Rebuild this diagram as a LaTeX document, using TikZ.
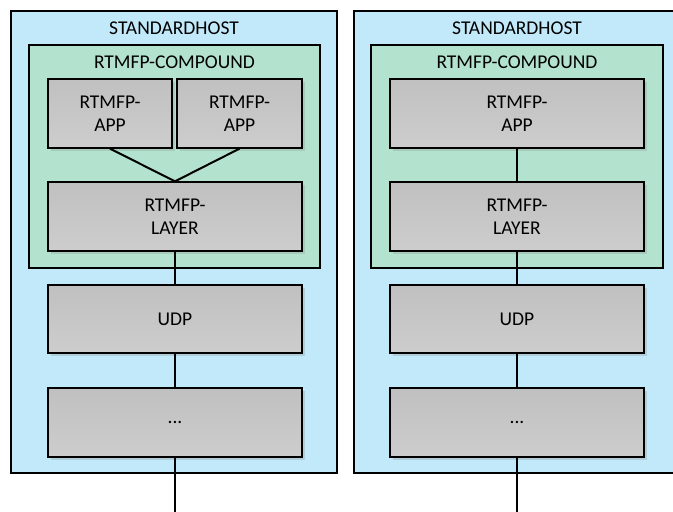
\documentclass[tikz,border=0pt]{standalone}
\usepackage{fontspec}
\setmainfont{Carlito}
\usetikzlibrary{shadows}
\definecolor{hostblue}{HTML}{C1E9F9}
\definecolor{compgreen}{HTML}{B3E3CF}
\definecolor{boxtop}{HTML}{C0C0C0}
\definecolor{boxbot}{HTML}{CDCDCD}
\tikzset{
  host/.style={draw=black, line width=1.3pt, fill=hostblue},
  comp/.style={draw=black, line width=1.3pt, fill=compgreen},
  layerbox/.style={draw=black, line width=1.3pt, top color=boxtop, bottom color=boxbot,
    drop shadow={shadow xshift=2.5pt, shadow yshift=-2.5pt, opacity=0.25}},
  lbl/.style={font=\fontsize{19.5}{22.5}\selectfont, align=center, inner sep=0pt},
  conn/.style={line width=2pt, draw=black}
}
\begin{document}
\begin{tikzpicture}[x=1pt, y=-1pt]
\useasboundingbox (0,0) rectangle (673,512);
\clip (0,0) rectangle (673,512);
% ---------- left host ----------
\draw[host] (11,11) rectangle (337,473);
\node[lbl] (lhost) at (174,28) {STANDARDHOST};
\draw[comp] (29,45) rectangle (320,268);
\node[lbl] (lcomp) at (174.5,62) {RTMFP-COMPOUND};
\node[layerbox, minimum width=124pt, minimum height=69pt, inner sep=0pt] (lapp1) at (110,113.5) {};
\node[lbl] at (lapp1) {RTMFP-\\APP};
\node[layerbox, minimum width=125pt, minimum height=69pt, inner sep=0pt] (lapp2) at (239.5,113.5) {};
\node[lbl] at (lapp2) {RTMFP-\\APP};
\node[layerbox, minimum width=254pt, minimum height=69pt, inner sep=0pt] (llayer) at (175,216.5) {};
\node[lbl] at (llayer) {RTMFP-\\LAYER};
\node[layerbox, minimum width=254pt, minimum height=68pt, inner sep=0pt] (ludp) at (175,319) {};
\node[lbl] at (ludp) {UDP};
\node[layerbox, minimum width=254pt, minimum height=69pt, inner sep=0pt] (ldots) at (175,422.5) {};
\node[lbl] at (ldots) {...};
\coordinate (lend) at (175,515);
\draw[conn] (lapp1.south) -- (llayer.north);
\draw[conn] (lapp2.south) -- (llayer.north);
\draw[conn] (llayer.south) -- (ludp.north);
\draw[conn] (ludp.south) -- (ldots.north);
\draw[conn] (ldots.south) -- (lend);
% ---------- right host ----------
\draw[host] (354,11) rectangle (680,473);
\node[lbl] (rhost) at (517,28) {STANDARDHOST};
\draw[comp] (371,45) rectangle (663,268);
\node[lbl] (rcomp) at (517,62) {RTMFP-COMPOUND};
\node[layerbox, minimum width=254pt, minimum height=69pt, inner sep=0pt] (rapp) at (517,113.5) {};
\node[lbl] at (rapp) {RTMFP-\\APP};
\node[layerbox, minimum width=254pt, minimum height=69pt, inner sep=0pt] (rlayer) at (517,216.5) {};
\node[lbl] at (rlayer) {RTMFP-\\LAYER};
\node[layerbox, minimum width=254pt, minimum height=68pt, inner sep=0pt] (rudp) at (517,319) {};
\node[lbl] at (rudp) {UDP};
\node[layerbox, minimum width=254pt, minimum height=69pt, inner sep=0pt] (rdots) at (517,422.5) {};
\node[lbl] at (rdots) {...};
\coordinate (rend) at (517,515);
\draw[conn] (rapp.south) -- (rlayer.north);
\draw[conn] (rlayer.south) -- (rudp.north);
\draw[conn] (rudp.south) -- (rdots.north);
\draw[conn] (rdots.south) -- (rend);
\end{tikzpicture}
\end{document}
